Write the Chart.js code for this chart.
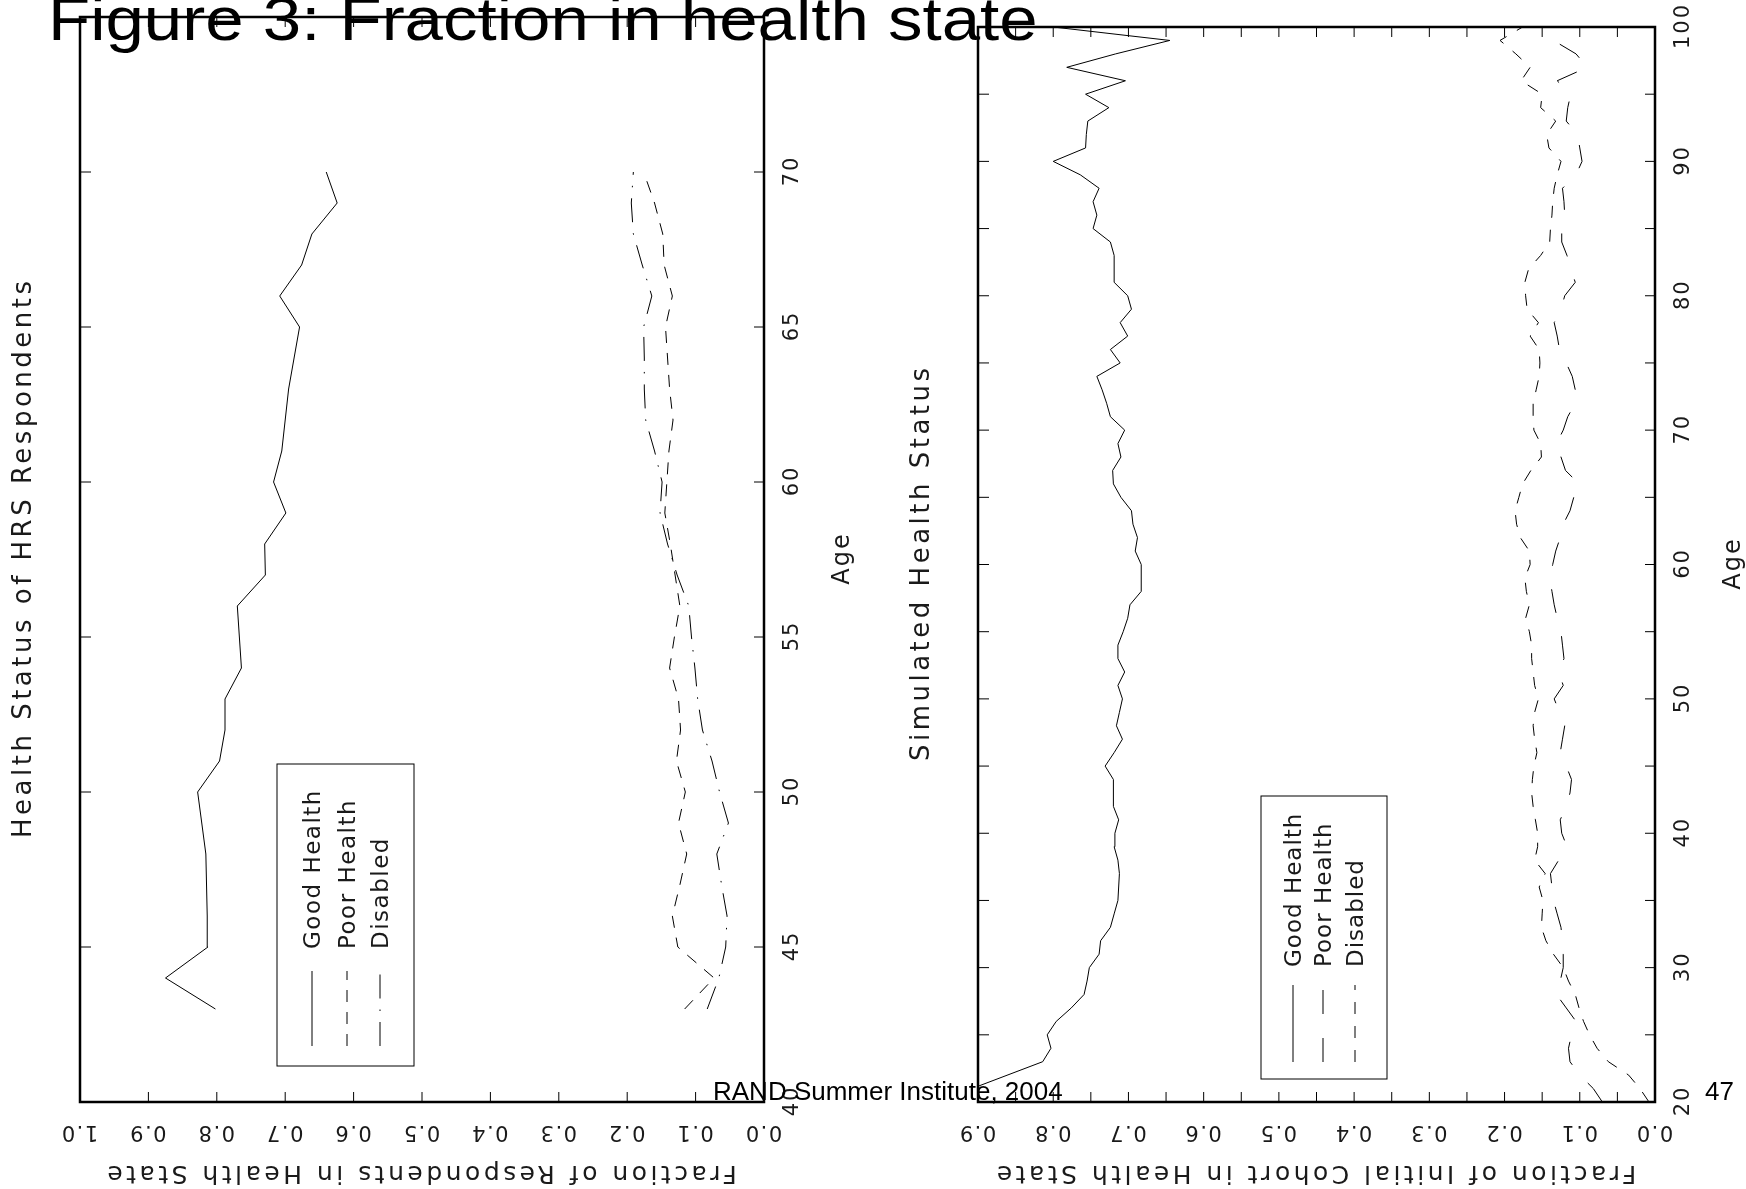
<!DOCTYPE html>
<html>
<head>
<meta charset="utf-8">
<script src="https://cdn.jsdelivr.net/npm/chart.js@4.4.1/dist/chart.umd.min.js"></script>
<style>
  body { margin: 0; width: 1746px; height: 1189px; overflow: hidden; position: relative; background: #fff; }
  canvas { position: absolute; top: 0; }
  #hrs { left: 0; }
  #sim { left: 870px; }
  .slide { position: absolute; white-space: nowrap; color: #000; font-family: "Liberation Sans", Arial, sans-serif; }
  #fig { left: 48px; top: -12px; font-size: 62px; line-height: 62px; transform: scaleX(1.113); transform-origin: 0 0; }
  #rand { left: 713px; top: 1078px; font-size: 26px; line-height: 26px; }
  #page { left: 1705px; top: 1078px; font-size: 26px; line-height: 26px; }
</style>
</head>
<body>
<canvas id="hrs" width="870" height="1189"></canvas>
<canvas id="sim" width="876" height="1189"></canvas>
<div class="slide" id="fig">Figure 3: Fraction in health state</div>
<div class="slide" id="rand">RAND Summer Institute, 2004</div>
<div class="slide" id="page">47</div>
<script>
// series names (same order in both panels)
const seriesNames = ['Good Health', 'Poor Health', 'Disabled'];

// left panel: HRS respondents, ages 43-70
const hrsAges = [43, 44, 45, 46, 47, 48, 49, 50, 51, 52, 53, 54, 55, 56, 57, 58, 59, 60, 61, 62, 63, 64, 65, 66, 67, 68, 69, 70];
const hrsGood = [0.802, 0.875, 0.813, 0.814, 0.815, 0.816, 0.822, 0.828, 0.796, 0.788, 0.788, 0.764, 0.767, 0.770,
                 0.729, 0.730, 0.699, 0.717, 0.705, 0.700, 0.695, 0.687, 0.679, 0.708, 0.676, 0.661, 0.624, 0.640];
const hrsPoor = [0.116, 0.073, 0.126, 0.134, 0.123, 0.113, 0.125, 0.115, 0.128, 0.122, 0.125, 0.138, 0.131, 0.123,
                 0.130, 0.137, 0.145, 0.142, 0.139, 0.133, 0.138, 0.141, 0.144, 0.134, 0.146, 0.148, 0.160, 0.176];
const hrsDisabled = [0.083, 0.066, 0.056, 0.054, 0.062, 0.069, 0.052, 0.065, 0.076, 0.090, 0.097, 0.101, 0.106, 0.110,
                     0.127, 0.141, 0.152, 0.149, 0.160, 0.173, 0.175, 0.175, 0.176, 0.164, 0.178, 0.191, 0.194, 0.191];

// right panel: simulated cohort, ages 20-100
const simAges = [20, 21, 22, 23, 24, 25, 26, 27, 28, 29, 30, 31, 32, 33, 34, 35, 36, 37, 38, 39,
                 40, 41, 42, 43, 44, 45, 46, 47, 48, 49, 50, 51, 52, 53, 54, 55, 56, 57, 58, 59,
                 60, 61, 62, 63, 64, 65, 66, 67, 68, 69, 70, 71, 72, 73, 74, 75, 76, 77, 78, 79,
                 80, 81, 82, 83, 84, 85, 86, 87, 88, 89, 90, 91, 92, 93, 94, 95, 96, 97, 98, 99, 100];
const simGood = [0.955, null, null, 0.814, 0.803, 0.808, 0.796, 0.776, 0.759, 0.755,
                 0.752, 0.739, 0.737, 0.724, 0.719, 0.714, 0.713, 0.712, 0.714, 0.719,
                 0.718, 0.713, 0.720, 0.720, 0.720, 0.731, 0.719, 0.708, 0.716, 0.712,
                 0.708, 0.714, 0.705, 0.714, 0.714, 0.707, 0.701, 0.698, 0.683, 0.683,
                 0.683, 0.691, 0.688, 0.694, 0.696, 0.710, 0.720, 0.721, 0.710, 0.714,
                 0.705, 0.724, 0.729, 0.735, 0.742, 0.711, 0.724, 0.701, 0.711, 0.696,
                 0.701, 0.719, 0.719, 0.719, 0.724, 0.747, 0.742, 0.747, 0.739, 0.764,
                 0.800, 0.757, 0.756, 0.754, 0.726, 0.757, 0.704, 0.782, 0.717, 0.645, 0.800];
const simPoor = [0.070, 0.082, 0.100, 0.113, 0.115, 0.111, 0.105, 0.118, 0.131, 0.126,
                 0.122, 0.122, 0.123, 0.125, 0.130, 0.135, 0.137, 0.139, 0.128, 0.117,
                 0.124, 0.126, 0.118, 0.113, 0.111, 0.118, 0.126, 0.123, 0.120, 0.127,
                 0.134, 0.122, 0.128, 0.121, 0.123, 0.125, 0.130, 0.134, 0.137, 0.140,
                 0.136, 0.132, 0.126, 0.122, 0.113, 0.108, 0.101, 0.119, 0.125, 0.131,
                 0.122, 0.116, 0.106, 0.106, 0.110, 0.118, 0.127, 0.130, 0.134, 0.125,
                 0.120, 0.106, 0.112, 0.117, 0.124, 0.124, 0.120, 0.121, 0.123, 0.105,
                 0.097, 0.100, 0.103, 0.118, 0.116, 0.112, 0.130, 0.090, 0.105, 0.135, 0.120];
const simDisabled = [0.008, 0.020, 0.035, 0.062, 0.077, 0.087, 0.095, 0.101, 0.106, 0.115,
                     0.122, 0.135, 0.145, 0.151, 0.150, 0.149, 0.154, 0.146, 0.160, 0.156,
                     0.156, 0.159, 0.162, 0.164, 0.163, 0.161, 0.157, 0.160, 0.162, 0.160,
                     0.155, 0.160, 0.162, 0.164, 0.164, 0.167, 0.172, 0.167, 0.171, 0.173,
                     0.166, 0.167, 0.179, 0.184, 0.186, 0.181, 0.176, 0.165, 0.151, 0.152,
                     0.161, 0.162, 0.162, 0.158, 0.154, 0.153, 0.154, 0.166, 0.155, 0.170,
                     0.172, 0.173, 0.168, 0.152, 0.140, 0.139, 0.137, 0.136, 0.134, 0.130,
                     0.125, 0.141, 0.144, 0.132, 0.152, 0.150, 0.178, 0.166, 0.185, 0.206, 0.176];

// tick marks and tick labels
const hrsAgeTicks = [45, 50, 55, 60, 65, 70];
const hrsAgeLabels = [40, 45, 50, 55, 60, 65, 70];
const hrsFracTicks = [0.1, 0.2, 0.3, 0.4, 0.5, 0.6, 0.7, 0.8, 0.9];
const hrsFracLabels = ['0.0', '0.1', '0.2', '0.3', '0.4', '0.5', '0.6', '0.7', '0.8', '0.9', '1.0'];
const simAgeTicks = [25, 30, 35, 40, 45, 50, 55, 60, 65, 70, 75, 80, 85, 90, 95];
const simAgeLabels = [20, 30, 40, 50, 60, 70, 80, 90, 100];
const simFracTicks = [0.05, 0.1, 0.15, 0.2, 0.25, 0.3, 0.35, 0.4, 0.45, 0.5, 0.55, 0.6, 0.65, 0.7, 0.75, 0.8, 0.85];
const simFracLabels = ['0.0', '0.1', '0.2', '0.3', '0.4', '0.5', '0.6', '0.7', '0.8', '0.9'];

const UP = -Math.PI / 2;   // text reading bottom to top
const FLIP = Math.PI;      // upside-down text

// rotated text, cap height centred on (x, y)
function txt(ctx, s, x, y, rot, size, spacing, align) {
  ctx.save();
  ctx.translate(x, y);
  ctx.rotate(rot);
  ctx.font = size + 'px "DejaVu Sans"';
  ctx.letterSpacing = spacing + 'px';
  ctx.textAlign = align;
  ctx.textBaseline = 'alphabetic';
  ctx.fillText(s, align === 'center' ? spacing / 2 : 0, size * 0.365);
  ctx.restore();
}

// frame, inward ticks, rotated labels, titles and legend box
const rotatedAxes = {
  id: 'rotatedAxes',
  afterDatasetsDraw(chart, args, o) {
    const { ctx, chartArea: a, scales: { x, y } } = chart;
    ctx.save();
    ctx.strokeStyle = '#000';
    ctx.fillStyle = '#1a1a1a';

    ctx.lineWidth = 1;
    ctx.beginPath();
    o.ageTicks.forEach(v => {
      const py = y.getPixelForValue(v);
      ctx.moveTo(a.left, py); ctx.lineTo(a.left + 11, py);
      ctx.moveTo(a.right, py); ctx.lineTo(a.right - 10, py);
    });
    o.fracTicks.forEach(v => {
      const px = x.getPixelForValue(v);
      ctx.moveTo(px, a.bottom); ctx.lineTo(px, a.bottom - 10);
      ctx.moveTo(px, a.top); ctx.lineTo(px, a.top + 10);
    });
    ctx.stroke();

    ctx.lineWidth = 2.5;
    ctx.strokeRect(a.left, a.top, a.right - a.left, a.bottom - a.top);

    o.ageLabels.forEach(v => txt(ctx, String(v), a.right + 26, y.getPixelForValue(v), UP, 21, 2, 'center'));
    o.fracLabels.forEach(s => txt(ctx, s, x.getPixelForValue(parseFloat(s)), a.bottom + 32, FLIP, 21, 1.5, 'center'));
    txt(ctx, 'Age', a.right + 76, (a.top + a.bottom) / 2, UP, 24, 2, 'center');
    txt(ctx, o.xTitle, (a.left + a.right) / 2, a.bottom + 73, FLIP, 25, 3.5, 'center');
    txt(ctx, o.title, a.left - 58, (a.top + a.bottom) / 2, UP, 26, 3.5, 'center');

    // legend
    const lg = o.legend;
    ctx.lineWidth = 1;
    ctx.strokeRect(a.left + lg.left, a.bottom - lg.top, lg.width, lg.height);
    chart.data.datasets.forEach((ds, i) => {
      const cx = a.left + lg.cols[i];
      txt(ctx, ds.label, cx, a.bottom - lg.textStart, UP, 23, lg.spacing, 'left');
      ctx.setLineDash(ds.borderDash || []);
      ctx.beginPath();
      ctx.moveTo(cx, a.bottom - lg.lineFrom);
      ctx.lineTo(cx, a.bottom - lg.lineTo);
      ctx.stroke();
      ctx.setLineDash([]);
    });
    ctx.restore();
  }
};

function points(ages, vals) {
  return ages.map((age, i) => ({ x: vals[i], y: age })).filter(p => p.x !== null);
}

function series(label, ages, vals, dash) {
  return {
    label,
    data: points(ages, vals),
    showLine: true,
    borderColor: '#000',
    borderWidth: 1,
    borderDash: dash,
    pointRadius: 0,
    clip: 0
  };
}

function renderPanel(el, datasets, xMax, yMin, yMax, padding, axes) {
  new Chart(el.getContext('2d'), {
    type: 'scatter',
    data: { datasets },
    options: {
      responsive: false,
      animation: false,
      devicePixelRatio: 1,
      layout: { padding },
      scales: {
        x: { type: 'linear', reverse: true, min: 0, max: xMax, display: false },
        y: { type: 'linear', min: yMin, max: yMax, display: false }
      },
      plugins: { legend: { display: false }, tooltip: { enabled: false }, rotatedAxes: axes }
    },
    plugins: [rotatedAxes]
  });
}

// Left: HRS respondents
renderPanel(document.getElementById('hrs'), [
  series(seriesNames[0], hrsAges, hrsGood, []),
  series(seriesNames[1], hrsAges, hrsPoor, [12, 10]),
  series(seriesNames[2], hrsAges, hrsDisabled, [24, 11, 1.5, 11])
], 1.0, 40, 75, { left: 80, right: 106, top: 17, bottom: 87 }, {
  ageTicks: hrsAgeTicks, ageLabels: hrsAgeLabels,
  fracTicks: hrsFracTicks, fracLabels: hrsFracLabels,
  title: 'Health Status of HRS Respondents',
  xTitle: 'Fraction of Respondents in Health State',
  legend: { left: 197, width: 137, top: 338, height: 302, cols: [232, 267, 300],
            textStart: 153, lineFrom: 56, lineTo: 131, spacing: 1.5 }
});

// Right: simulated cohort
renderPanel(document.getElementById('sim'), [
  series(seriesNames[0], simAges, simGood, []),
  series(seriesNames[1], simAges, simPoor, [24, 24]),
  series(seriesNames[2], simAges, simDisabled, [12, 12])
], 0.9, 20, 100, { left: 108, right: 91, top: 27, bottom: 87 }, {
  ageTicks: simAgeTicks, ageLabels: simAgeLabels,
  fracTicks: simFracTicks, fracLabels: simFracLabels,
  title: 'Simulated Health Status',
  xTitle: 'Fraction of Initial Cohort in Health State',
  legend: { left: 283, width: 126, top: 306, height: 283, cols: [315, 345, 377],
            textStart: 135, lineFrom: 40, lineTo: 117, spacing: 1 }
});
</script>
</body>
</html>
